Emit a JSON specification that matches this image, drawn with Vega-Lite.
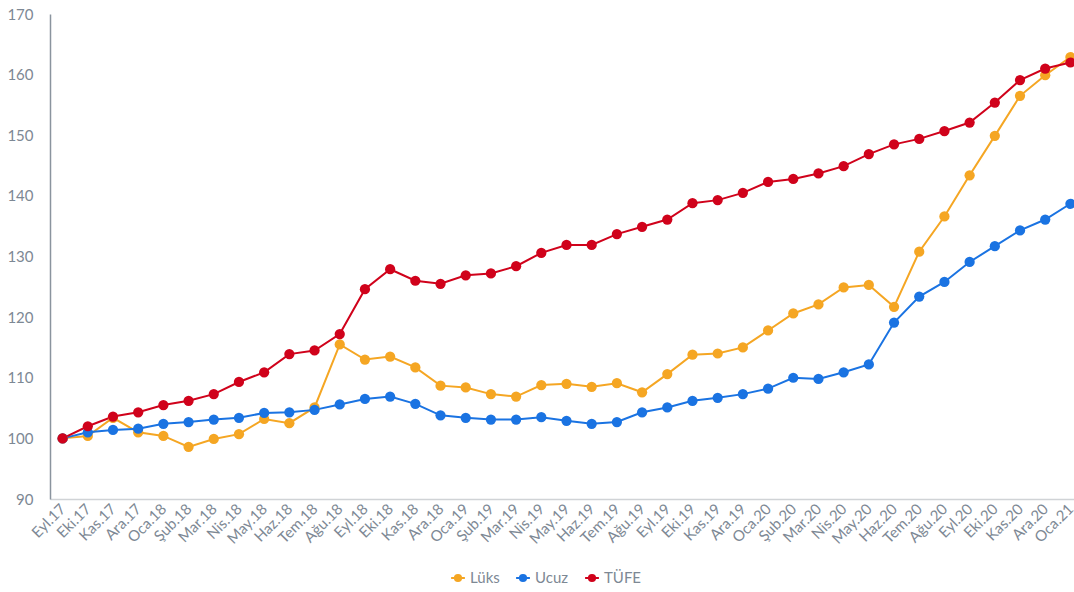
{
  "$schema": "https://vega.github.io/schema/vega-lite/v6.json",
  "autosize": "none",
  "width": 1033,
  "height": 485,
  "padding": {"left": 50, "top": 14, "right": 0, "bottom": 93},
  "background": "white",
  "config": {
    "font": "Lato",
    "view": {"stroke": null},
    "axis": {"labelFont": "Lato", "labelColor": "#7d8894", "labelFontSize": 14, "ticks": false, "grid": false, "title": null}
  },
  "data": {"values": [
    {"ay": "Eyl.17", "Lüks": 100.0, "Ucuz": 100.0, "TÜFE": 100.0},
    {"ay": "Eki.17", "Lüks": 100.4, "Ucuz": 101.0, "TÜFE": 102.0},
    {"ay": "Kas.17", "Lüks": 103.4, "Ucuz": 101.4, "TÜFE": 103.6},
    {"ay": "Ara.17", "Lüks": 101.0, "Ucuz": 101.6, "TÜFE": 104.3},
    {"ay": "Oca.18", "Lüks": 100.4, "Ucuz": 102.4, "TÜFE": 105.5},
    {"ay": "Şub.18", "Lüks": 98.6, "Ucuz": 102.7, "TÜFE": 106.2},
    {"ay": "Mar.18", "Lüks": 99.9, "Ucuz": 103.1, "TÜFE": 107.3},
    {"ay": "Nis.18", "Lüks": 100.7, "Ucuz": 103.4, "TÜFE": 109.3},
    {"ay": "May.18", "Lüks": 103.2, "Ucuz": 104.2, "TÜFE": 110.9},
    {"ay": "Haz.18", "Lüks": 102.5, "Ucuz": 104.3, "TÜFE": 113.9},
    {"ay": "Tem.18", "Lüks": 105.1, "Ucuz": 104.7, "TÜFE": 114.5},
    {"ay": "Ağu.18", "Lüks": 115.5, "Ucuz": 105.6, "TÜFE": 117.2},
    {"ay": "Eyl.18", "Lüks": 113.0, "Ucuz": 106.5, "TÜFE": 124.6},
    {"ay": "Eki.18", "Lüks": 113.5, "Ucuz": 106.9, "TÜFE": 127.9},
    {"ay": "Kas.18", "Lüks": 111.7, "Ucuz": 105.7, "TÜFE": 126.0},
    {"ay": "Ara.18", "Lüks": 108.7, "Ucuz": 103.8, "TÜFE": 125.5},
    {"ay": "Oca.19", "Lüks": 108.4, "Ucuz": 103.4, "TÜFE": 126.9},
    {"ay": "Şub.19", "Lüks": 107.3, "Ucuz": 103.1, "TÜFE": 127.2},
    {"ay": "Mar.19", "Lüks": 106.9, "Ucuz": 103.1, "TÜFE": 128.4},
    {"ay": "Nis.19", "Lüks": 108.8, "Ucuz": 103.5, "TÜFE": 130.6},
    {"ay": "May.19", "Lüks": 109.0, "Ucuz": 102.9, "TÜFE": 131.9},
    {"ay": "Haz.19", "Lüks": 108.5, "Ucuz": 102.4, "TÜFE": 131.9},
    {"ay": "Tem.19", "Lüks": 109.1, "Ucuz": 102.7, "TÜFE": 133.7},
    {"ay": "Ağu.19", "Lüks": 107.6, "Ucuz": 104.3, "TÜFE": 134.9},
    {"ay": "Eyl.19", "Lüks": 110.6, "Ucuz": 105.1, "TÜFE": 136.1},
    {"ay": "Eki.19", "Lüks": 113.8, "Ucuz": 106.2, "TÜFE": 138.8},
    {"ay": "Kas.19", "Lüks": 114.0, "Ucuz": 106.7, "TÜFE": 139.3},
    {"ay": "Ara.19", "Lüks": 115.0, "Ucuz": 107.3, "TÜFE": 140.5},
    {"ay": "Oca.20", "Lüks": 117.8, "Ucuz": 108.2, "TÜFE": 142.3},
    {"ay": "Şub.20", "Lüks": 120.6, "Ucuz": 110.0, "TÜFE": 142.8},
    {"ay": "Mar.20", "Lüks": 122.1, "Ucuz": 109.8, "TÜFE": 143.7},
    {"ay": "Nis.20", "Lüks": 124.9, "Ucuz": 110.9, "TÜFE": 144.9},
    {"ay": "May.20", "Lüks": 125.3, "Ucuz": 112.2, "TÜFE": 146.9},
    {"ay": "Haz.20", "Lüks": 121.7, "Ucuz": 119.1, "TÜFE": 148.5},
    {"ay": "Tem.20", "Lüks": 130.8, "Ucuz": 123.4, "TÜFE": 149.4},
    {"ay": "Ağu.20", "Lüks": 136.6, "Ucuz": 125.8, "TÜFE": 150.7},
    {"ay": "Eyl.20", "Lüks": 143.4, "Ucuz": 129.1, "TÜFE": 152.1},
    {"ay": "Eki.20", "Lüks": 149.9, "Ucuz": 131.7, "TÜFE": 155.4},
    {"ay": "Kas.20", "Lüks": 156.5, "Ucuz": 134.3, "TÜFE": 159.1},
    {"ay": "Ara.20", "Lüks": 159.9, "Ucuz": 136.1, "TÜFE": 161.0},
    {"ay": "Oca.21", "Lüks": 162.9, "Ucuz": 138.7, "TÜFE": 162.0}
  ]},
  "transform": [{"fold": ["Lüks", "Ucuz", "TÜFE"], "as": ["seri", "deger"]}],
  "mark": {"type": "line", "strokeWidth": 2, "point": {"filled": true, "size": 105, "opacity": 1}},
  "encoding": {
    "x": {
      "field": "ay", "type": "ordinal", "sort": null,
      "scale": {"type": "point", "padding": 0.5},
      "axis": {"labelAngle": -45, "labelAlign": "right", "labelBaseline": "middle", "labelPadding": 7, "labelFontSize": 15, "domainColor": "#d0d3d6", "domainWidth": 1.5}
    },
    "y": {
      "field": "deger", "type": "quantitative",
      "scale": {"domain": [90, 170], "nice": false, "zero": false},
      "axis": {"values": [90, 100, 110, 120, 130, 140, 150, 160, 170], "labelPadding": 17, "labelFontSize": 15, "domainColor": "#8a949e", "domainWidth": 1.5}
    },
    "color": {
      "field": "seri", "type": "nominal",
      "scale": {"domain": ["Lüks", "Ucuz", "TÜFE"], "range": ["#F5A623", "#1A73E2", "#D0021B"]},
      "legend": {
        "title": null, "orient": "none", "direction": "horizontal",
        "legendX": 400, "legendY": 556,
        "labelFont": "Lato", "labelFontSize": 15, "labelColor": "#7d8894",
        "symbolType": "M-1,0H1M0.45,0A0.45,0.45 0 1,1 -0.45,0A0.45,0.45 0 1,1 0.45,0",
        "symbolSize": 190, "symbolStrokeWidth": 2, "columnPadding": 12, "labelOffset": 4
      }
    }
  }
}
